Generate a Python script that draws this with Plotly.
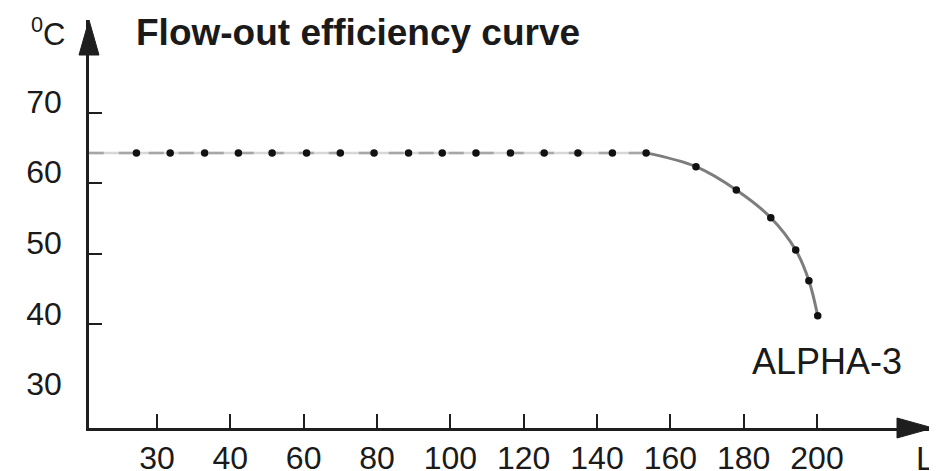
import plotly.graph_objects as go

# ---- data (x in tick-slot units: slot i carries tick label x_tick_labels[i]) ----
x_tick_labels = ["30", "40", "60", "80", "100", "120", "140", "160", "180", "200"]
x_tick_pos = [0, 1, 2, 3, 4, 5, 6, 7, 8, 9]
y_tick_vals = [30, 40, 50, 60, 70]
y_tick_text = ["30", "40", "50", "60", "70"]
y_tick_marks = [40, 50, 60, 70]

flat_x = [-0.93, -0.28, 0.18, 0.65, 1.11, 1.57, 2.04, 2.50, 2.96, 3.43, 3.89,
          4.35, 4.82, 5.28, 5.74, 6.21, 6.67]
flat_y = [64.3, 64.3, 64.3, 64.3, 64.3, 64.3, 64.3, 64.3, 64.3, 64.3, 64.3,
          64.3, 64.3, 64.3, 64.3, 64.3, 64.3]
curve_x = [6.67, 7.35, 7.90, 8.37, 8.71, 8.89, 9.01]
curve_y = [64.3, 62.35, 59.04, 55.11, 50.53, 46.18, 41.22]

dot_x = flat_x[1:] + curve_x[1:]
dot_y = flat_y[1:] + curve_y[1:]

AX = "#1e1e1e"
FONT = "Liberation Sans, Arial, Helvetica, sans-serif"

fig = go.Figure()
fig.add_trace(go.Scatter(x=flat_x, y=flat_y, mode="lines",
                         line=dict(color="#c8c8c8", width=2.5),
                         hoverinfo="skip", opacity=0.7))
fig.add_trace(go.Scatter(x=flat_x, y=flat_y, mode="lines",
                         line=dict(color="#a6a6a6", width=2.5, dash="longdash"),
                         hoverinfo="skip"))
fig.add_trace(go.Scatter(x=curve_x, y=curve_y, mode="lines",
                         line=dict(color="#7d7d7d", width=3, shape="spline", smoothing=1),
                         hoverinfo="skip"))
fig.add_trace(go.Scatter(x=dot_x, y=dot_y, mode="markers",
                         marker=dict(color="#111111", size=7.5),
                         hoverinfo="skip"))

# the page body has an 8px margin, so the figure is laid out 8px smaller/offset
OFF = 8
W, H = 937 - OFF, 471 - OFF
L, R, T, B = 89 - OFF, 4, 20 - OFF, 43
pw, ph = W - L - R, H - T - B

fig.update_layout(
    width=W, height=H,
    margin=dict(l=L, r=R, t=T, b=B, pad=0, autoexpand=False),
    paper_bgcolor="white", plot_bgcolor="white",
    showlegend=False,
    font=dict(family=FONT, color="#1a1a1a", size=33),
    xaxis=dict(range=[-0.927, 10.582], showgrid=False, zeroline=False,
               automargin=False,
               showline=True, linecolor=AX, linewidth=2.6,
               tickvals=x_tick_pos, ticktext=x_tick_labels,
               ticks="inside", ticklen=14, tickwidth=2.2, tickcolor=AX,
               ticklabelstandoff=0,
               tickfont=dict(size=32, family=FONT, color="#1a1a1a")),
    yaxis=dict(range=[25.3, 83.14], showgrid=False, zeroline=False,
               automargin=False,
               showline=True, linecolor=AX, linewidth=2.6,
               tickvals=y_tick_vals, ticktext=y_tick_text,
               ticks="", ticklabelstandoff=18, ticklabelshift=-11,
               minor=dict(tickvals=y_tick_marks, ticks="inside", ticklen=13,
                          tickwidth=2.2, tickcolor=AX),
               tickfont=dict(size=32, family=FONT, color="#1a1a1a")),
)

# axis arrowheads
ax_len, ax_half = 36 / pw, 10 / ph
fig.add_shape(type="path", xref="x domain", yref="y domain",
              path=f"M 1 0 L {1-ax_len} {ax_half} L {1-ax_len} {-ax_half} Z",
              fillcolor=AX, line=dict(color=AX, width=1))
ay_len, ay_half = 35 / ph, 10 / pw
fig.add_shape(type="path", xref="x domain", yref="y domain",
              path=f"M 0 1 L {ay_half} {1-ay_len} L {-ay_half} {1-ay_len} Z",
              fillcolor=AX, line=dict(color=AX, width=1))

# helpers: page pixel -> paper fraction
def px(xp):
    return (xp - OFF - L) / pw

def py(yp):
    return (H - B - (yp - OFF)) / ph

fig.add_annotation(text="<b>Flow-out efficiency curve</b>", xref="paper", yref="paper",
                   x=px(134), y=py(32), xanchor="left", yanchor="middle",
                   showarrow=False, font=dict(size=37, family=FONT, color="#1a1a1a"))
fig.add_annotation(text="<sup>0</sup>C", xref="paper", yref="paper",
                   x=px(67), y=py(32), xanchor="right", yanchor="middle",
                   showarrow=False, font=dict(size=31, family=FONT, color="#1a1a1a"))
fig.add_annotation(text="L", xref="paper", yref="paper",
                   x=px(925), y=py(458), xanchor="center", yanchor="middle",
                   showarrow=False, font=dict(size=33, family=FONT, color="#1a1a1a"))
fig.add_annotation(text="ALPHA-3", xref="paper", yref="paper",
                   x=px(827), y=py(361), xanchor="center", yanchor="middle",
                   showarrow=False, font=dict(size=36, family=FONT, color="#1a1a1a"))

fig.write_html("out.html")
